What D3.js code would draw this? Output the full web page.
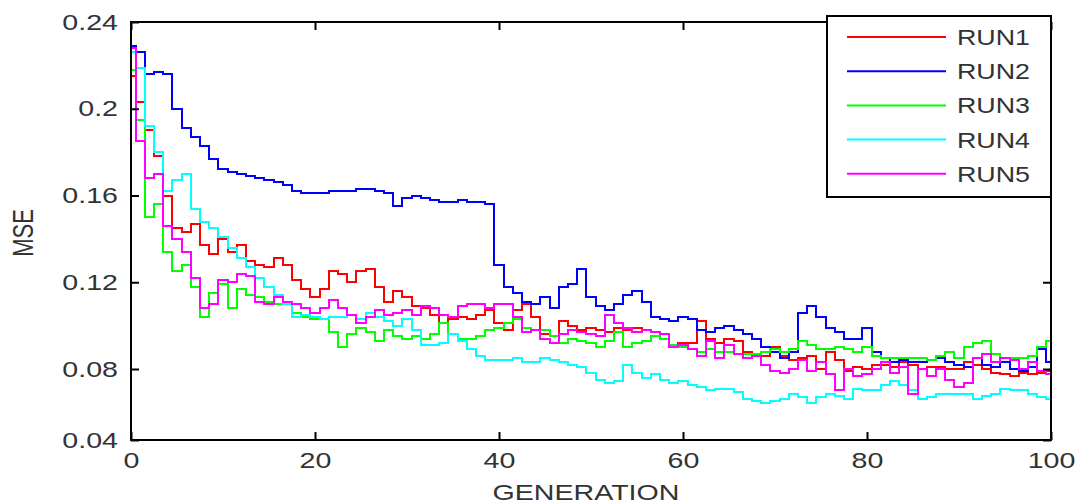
<!DOCTYPE html>
<html>
<head>
<meta charset="utf-8">
<script src="https://cdnjs.cloudflare.com/ajax/libs/d3/7.8.5/d3.min.js"></script>
<style>
  html, body { margin: 0; padding: 0; background: #fff; }
  svg { display: block; }
</style>
</head>
<body>
<svg id="chart" width="1081" height="504"></svg>
<script>
// values, one per generation (0..100)
const generations = d3.range(0, 101);

const run1 = [0.215,0.203,0.190,0.178,0.160,0.145,0.143,0.147,0.137,0.133,
  0.140,0.134,0.137,0.130,0.128,0.127,0.131,0.128,0.121,0.117,
  0.113,0.117,0.125,0.124,0.120,0.125,0.126,0.118,0.111,0.116,
  0.113,0.109,0.108,0.105,0.101,0.103,0.104,0.103,0.105,0.107,
  0.101,0.098,0.107,0.110,0.104,0.096,0.095,0.102,0.100,0.098,
  0.099,0.098,0.097,0.099,0.098,0.099,0.098,0.097,0.096,0.090,
  0.092,0.092,0.102,0.094,0.092,0.094,0.093,0.088,0.087,0.086,
  0.090,0.086,0.084,0.085,0.086,0.080,0.088,0.084,0.079,0.081,
  0.080,0.082,0.082,0.081,0.083,0.082,0.080,0.081,0.081,0.080,
  0.080,0.083,0.082,0.080,0.078,0.077,0.076,0.078,0.077,0.078,0.079];

const run2 = [0.229,0.226,0.216,0.217,0.216,0.200,0.191,0.187,0.183,0.177,
  0.172,0.171,0.170,0.169,0.168,0.167,0.166,0.165,0.162,0.161,
  0.161,0.161,0.162,0.162,0.162,0.163,0.163,0.162,0.161,0.155,
  0.159,0.160,0.159,0.158,0.157,0.157,0.158,0.157,0.157,0.156,
  0.128,0.118,0.115,0.111,0.110,0.113,0.108,0.118,0.119,0.126,
  0.113,0.109,0.107,0.110,0.114,0.116,0.111,0.104,0.103,0.102,
  0.104,0.103,0.098,0.097,0.099,0.100,0.098,0.096,0.094,0.090,
  0.088,0.085,0.088,0.106,0.109,0.104,0.099,0.097,0.094,0.094,
  0.099,0.088,0.085,0.083,0.084,0.083,0.083,0.084,0.085,0.083,
  0.082,0.081,0.085,0.082,0.081,0.083,0.080,0.079,0.081,0.089,0.083];

const run3 = [0.218,0.195,0.150,0.156,0.134,0.125,0.128,0.118,0.104,0.115,
  0.119,0.108,0.117,0.114,0.113,0.111,0.110,0.110,0.106,0.104,
  0.103,0.103,0.097,0.090,0.096,0.099,0.097,0.093,0.098,0.095,
  0.094,0.095,0.094,0.096,0.101,0.096,0.094,0.094,0.095,0.098,
  0.099,0.101,0.103,0.099,0.098,0.098,0.095,0.092,0.094,0.093,
  0.092,0.090,0.093,0.097,0.090,0.092,0.093,0.095,0.094,0.091,
  0.090,0.089,0.088,0.089,0.088,0.088,0.087,0.087,0.087,0.088,
  0.089,0.088,0.089,0.093,0.091,0.089,0.089,0.090,0.089,0.088,
  0.090,0.086,0.085,0.085,0.085,0.085,0.085,0.084,0.086,0.088,
  0.085,0.090,0.092,0.093,0.087,0.085,0.085,0.085,0.086,0.090,0.093];

const run4 = [0.226,0.219,0.192,0.180,0.162,0.167,0.170,0.154,0.148,0.145,
  0.141,0.136,0.131,0.127,0.122,0.118,0.114,0.110,0.104,0.105,
  0.104,0.103,0.104,0.104,0.105,0.103,0.106,0.104,0.102,0.100,
  0.103,0.098,0.091,0.091,0.092,0.096,0.093,0.089,0.086,0.084,
  0.084,0.084,0.085,0.083,0.083,0.085,0.084,0.083,0.082,0.081,
  0.078,0.074,0.072,0.073,0.082,0.078,0.075,0.077,0.074,0.072,
  0.073,0.071,0.070,0.068,0.069,0.069,0.067,0.063,0.062,0.061,
  0.062,0.063,0.066,0.064,0.061,0.064,0.066,0.065,0.063,0.069,
  0.068,0.068,0.071,0.073,0.071,0.068,0.063,0.064,0.066,0.066,
  0.066,0.066,0.063,0.065,0.066,0.069,0.068,0.068,0.066,0.064,0.063];

const run5 = [0.228,0.185,0.168,0.170,0.146,0.140,0.134,0.122,0.108,0.110,
  0.121,0.120,0.124,0.123,0.111,0.110,0.113,0.111,0.110,0.108,
  0.106,0.108,0.112,0.108,0.105,0.101,0.104,0.107,0.105,0.106,
  0.107,0.105,0.109,0.108,0.105,0.104,0.109,0.110,0.110,0.108,
  0.110,0.110,0.104,0.097,0.098,0.094,0.092,0.096,0.098,0.097,
  0.096,0.095,0.105,0.101,0.099,0.097,0.098,0.097,0.096,0.090,
  0.091,0.089,0.086,0.093,0.085,0.091,0.087,0.085,0.086,0.082,
  0.079,0.078,0.080,0.084,0.079,0.083,0.077,0.068,0.080,0.076,
  0.077,0.080,0.083,0.078,0.081,0.066,0.080,0.076,0.080,0.074,
  0.070,0.072,0.085,0.087,0.083,0.085,0.084,0.080,0.083,0.079,0.077];

const seriesNames = ["RUN1", "RUN2", "RUN3", "RUN4", "RUN5"];
const seriesValues = [run1, run2, run3, run4, run5];
const seriesColors = ["#ff0000", "#0000ff", "#00ff00", "#00ffff", "#ff00ff"];

const xTicks = [0, 20, 40, 60, 80, 100];
const yTicks = [0.04, 0.08, 0.12, 0.16, 0.2, 0.24];

const FONT = "'Liberation Sans', Arial, Helvetica, sans-serif";
const stretch = 1.3; // the reference text is drawn wide

const plotLeft = 131, plotRight = 1051, plotTop = 22, plotBottom = 440;

const svg = d3.select("#chart");

const x = d3.scaleLinear().domain([0, 100]).range([plotLeft, plotRight]);
// the reference's lowest band (0.04..0.08) is squeezed, so the scale is piecewise
const y = d3.scaleLinear().domain([0.04, 0.08, 0.24]).range([plotBottom, 369, plotTop]);

svg.append("defs").append("clipPath").attr("id", "plot-clip")
  .append("rect")
  .attr("x", plotLeft).attr("y", plotTop)
  .attr("width", plotRight - plotLeft).attr("height", plotBottom - plotTop);

// lines (stair-stepped like the low-res original)
const line = d3.line()
  .curve(d3.curveStep)
  .x((d, i) => x(generations[i]))
  .y(d => y(d));

svg.append("g")
  .attr("clip-path", "url(#plot-clip)")
  .selectAll("path")
  .data(seriesValues)
  .join("path")
  .attr("d", line)
  .attr("fill", "none")
  .attr("stroke", (d, i) => seriesColors[i])
  .attr("stroke-width", 2)
  .attr("shape-rendering", "crispEdges");

// axes, ticks point inward on all four sides
function styleAxis(g) {
  g.select(".domain").remove();
  g.selectAll(".tick line").attr("stroke", "#000").attr("stroke-width", 2);
  g.selectAll(".tick text")
    .attr("fill", "#333")
    .attr("font-family", FONT)
    .attr("font-size", 22);
}

const fmt = d => String(+d.toFixed(2));

svg.append("g")
  .attr("transform", `translate(0,${plotBottom})`)
  .call(d3.axisBottom(x).tickValues(xTicks).tickSize(-8).tickPadding(12))
  .call(styleAxis)
  .call(g => g.selectAll(".tick text").attr("transform", `scale(${stretch},1)`));

svg.append("g")
  .attr("transform", `translate(0,${plotTop})`)
  .call(d3.axisTop(x).tickValues(xTicks).tickSize(-8).tickFormat(""))
  .call(styleAxis);

svg.append("g")
  .attr("transform", `translate(${plotLeft},0)`)
  .call(d3.axisLeft(y).tickValues(yTicks).tickFormat(fmt).tickSize(-8).tickPadding(10))
  .call(styleAxis)
  .call(g => g.selectAll(".tick text").attr("transform", `scale(${stretch},1)`));

svg.append("g")
  .attr("transform", `translate(${plotRight},0)`)
  .call(d3.axisRight(y).tickValues(yTicks).tickSize(-8).tickFormat(""))
  .call(styleAxis);

// frame
svg.append("rect")
  .attr("x", plotLeft).attr("y", plotTop)
  .attr("width", plotRight - plotLeft).attr("height", plotBottom - plotTop)
  .attr("fill", "none")
  .attr("stroke", "#000")
  .attr("stroke-width", 2);

// axis titles
svg.append("text")
  .attr("transform", `translate(${(plotLeft + plotRight) / 2 - 5},500) scale(${stretch},1)`)
  .attr("text-anchor", "middle")
  .attr("font-family", FONT)
  .attr("font-size", 22)
  .attr("fill", "#333")
  .text("GENERATION");

svg.append("text")
  .attr("transform", `translate(33,233) scale(${stretch},1) rotate(-90)`)
  .attr("text-anchor", "middle")
  .attr("font-family", FONT)
  .attr("font-size", 22)
  .attr("fill", "#333")
  .text("MSE");

// legend
const legend = svg.append("g");
legend.append("rect")
  .attr("x", 827).attr("y", 16)
  .attr("width", plotRight - 827).attr("height", 181)
  .attr("fill", "#fff")
  .attr("stroke", "#000")
  .attr("stroke-width", 2);

const rows = legend.selectAll(".row")
  .data(seriesNames)
  .join("g")
  .attr("class", "row")
  .attr("transform", (d, i) => `translate(0,${37 + i * 34.2})`);

rows.append("line")
  .attr("x1", 847).attr("x2", 946)
  .attr("stroke", (d, i) => seriesColors[i])
  .attr("stroke-width", 2);

rows.append("text")
  .attr("transform", `translate(957,0) scale(1.22,1)`)
  .attr("dy", "0.36em")
  .attr("font-family", FONT)
  .attr("font-size", 22)
  .attr("fill", "#333")
  .text(d => d);
</script>
</body>
</html>
